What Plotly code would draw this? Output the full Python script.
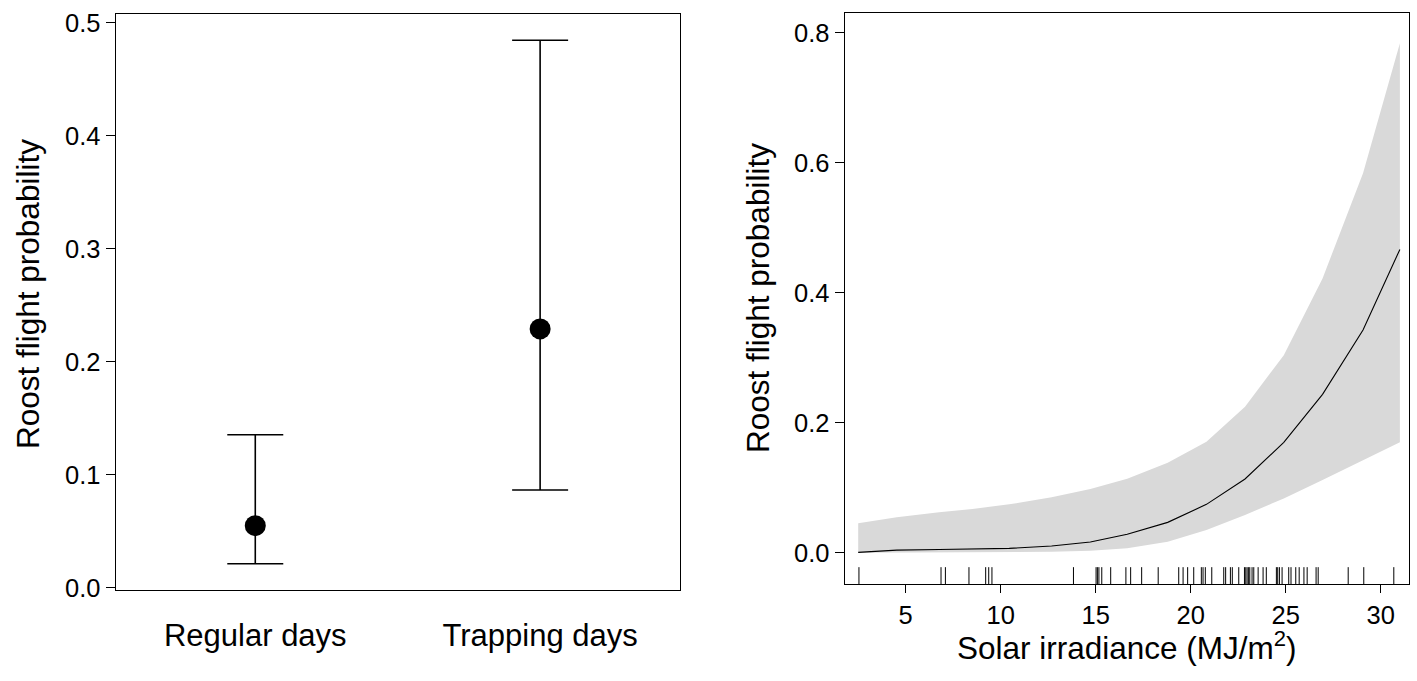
import plotly.graph_objects as go

# ---- Left panel data ----
day_types = ["Regular days", "Trapping days"]
day_prob = [0.0549, 0.229]
day_upper = [0.1354, 0.4844]
day_lower = [0.0212, 0.0865]

# ---- Right panel data ----
solar = [2.50, 4.53, 6.76, 8.51, 10.45, 12.68, 14.72, 16.66, 18.79, 20.83, 22.86, 24.90, 26.94, 29.07, 31.01]
solar_prob = [0.0006, 0.0040, 0.0050, 0.0057, 0.0067, 0.0103, 0.0165, 0.0283, 0.0467, 0.0744, 0.1134, 0.1698, 0.2437, 0.3426, 0.4667]
solar_upper = [0.0452, 0.0544, 0.0621, 0.0672, 0.0744, 0.0852, 0.0980, 0.1138, 0.1385, 0.1708, 0.2246, 0.3040, 0.4220, 0.5840, 0.7840]
solar_lower = [0.0000, 0.0001, 0.0002, 0.0004, 0.0008, 0.0015, 0.0030, 0.0067, 0.0170, 0.0350, 0.0580, 0.0836, 0.1118, 0.1426, 0.1698]
rug_solar = [2.54, 6.86, 7.09, 8.33, 9.21, 9.37, 9.54, 13.83, 15.02, 15.09, 15.17, 15.32, 15.79,
             16.59, 16.84, 17.42, 18.29, 19.37, 19.60, 19.84, 20.16, 20.56, 20.65, 20.77, 21.11,
             21.74, 21.84, 22.09, 22.19, 22.53, 22.83, 22.90, 22.97, 23.05, 23.11, 23.23, 23.32,
             23.55, 23.81, 23.98, 24.51, 24.58, 24.67, 24.81, 25.16, 25.28, 25.53, 25.71, 25.96,
             26.13, 26.60, 26.71, 28.29, 29.11, 30.69]

left_ticks = [0.0, 0.1, 0.2, 0.3, 0.4, 0.5]
right_yticks = [0.0, 0.2, 0.4, 0.6, 0.8]
right_xticks = [5, 10, 15, 20, 25, 30]

FONT = "Liberation Sans, Arial, Helvetica, sans-serif"
W, H = 1417, 681

fig = go.Figure()

# Left: point estimates with CIs
fig.add_trace(go.Scatter(
    x=[1, 2], y=day_prob, mode="markers",
    marker=dict(size=21, color="black"),
    error_y=dict(type="data", symmetric=False,
                 array=[u - p for u, p in zip(day_upper, day_prob)],
                 arrayminus=[p - l for p, l in zip(day_prob, day_lower)],
                 color="black", thickness=1.6, width=28),
    xaxis="x", yaxis="y", showlegend=False, hoverinfo="skip"))

# Right: confidence band
fig.add_trace(go.Scatter(x=solar, y=solar_lower, mode="lines", line=dict(width=0, color="rgba(0,0,0,0)"),
                         xaxis="x2", yaxis="y2", showlegend=False, hoverinfo="skip"))
fig.add_trace(go.Scatter(x=solar, y=solar_upper, mode="lines", line=dict(width=0, color="rgba(0,0,0,0)"),
                         fill="tonexty", fillcolor="#d9d9d9",
                         xaxis="x2", yaxis="y2", showlegend=False, hoverinfo="skip"))
fig.add_trace(go.Scatter(x=solar, y=solar_prob, mode="lines", line=dict(width=1.1, color="black"),
                         xaxis="x2", yaxis="y2", showlegend=False, hoverinfo="skip"))

# Rug
shapes = []
for r in rug_solar:
    shapes.append(dict(type="line", xref="x2", yref="y2 domain", x0=r, x1=r, y0=0, y1=0.03,
                       line=dict(color="black", width=1)))
fig.update_layout(shapes=shapes)

axis_common = dict(showline=True, linecolor="black", linewidth=1.2, mirror=True,
                   showgrid=False, zeroline=False, automargin=False,
                   tickfont=dict(family=FONT, size=25.5, color="black"))

L0, L1 = 115.7 / W, 679.7 / W
R0, R1 = 844.7 / W, 1409 / W

fig.update_layout(
    template="none",
    width=W, height=H, autosize=False,
    margin=dict(l=0, r=0, t=0, b=0, pad=0),
    paper_bgcolor="white", plot_bgcolor="white",
    xaxis=dict(domain=[L0, L1], range=[0.51, 2.49], tickvals=[1, 2], ticktext=day_types,
               ticks="outside", ticklen=18, tickcolor="rgba(0,0,0,0)", **{**axis_common,
               "tickfont": dict(family=FONT, size=31, color="black")}),
    yaxis=dict(domain=[(H - 590) / H, (H - 14.3) / H], range=[-0.002, 0.5074],
               tickvals=left_ticks, ticktext=[f"{v:.1f}" for v in left_ticks],
               ticks="outside", ticklen=9, tickcolor="black", tickwidth=1.2, **axis_common),
    xaxis2=dict(domain=[R0, R1], range=[1.79, 31.49], tickvals=right_xticks,
                ticks="outside", ticklen=8, tickcolor="black", tickwidth=1.2, anchor="y2", **axis_common),
    yaxis2=dict(domain=[(H - 584.3) / H, (H - 13.3) / H], range=[-0.0486, 0.830], anchor="x2",
                tickvals=right_yticks, ticktext=[f"{v:.1f}" for v in right_yticks],
                ticks="outside", ticklen=9, tickcolor="black", tickwidth=1.2, **axis_common),
)

title_font = dict(family=FONT, size=31.5, color="black")
fig.add_annotation(text="Roost flight probability", x=28 / W, y=(H - 294) / H, xref="paper", yref="paper",
                   textangle=-90, showarrow=False, font=title_font, xanchor="center", yanchor="middle")
fig.add_annotation(text="Roost flight probability", x=758 / W, y=(H - 298) / H, xref="paper", yref="paper",
                   textangle=-90, showarrow=False, font=title_font, xanchor="center", yanchor="middle")
fig.add_annotation(text="Solar irradiance (MJ/m<sup>2</sup>)", x=1127 / W, y=(H - 646) / H,
                   xref="paper", yref="paper", showarrow=False, font=title_font,
                   xanchor="center", yanchor="middle")

fig.write_html("out.html", config={"displayModeBar": False},
               post_script="document.body.style.margin='0';document.body.style.padding='0';"
                           "document.documentElement.style.overflow='hidden';")
